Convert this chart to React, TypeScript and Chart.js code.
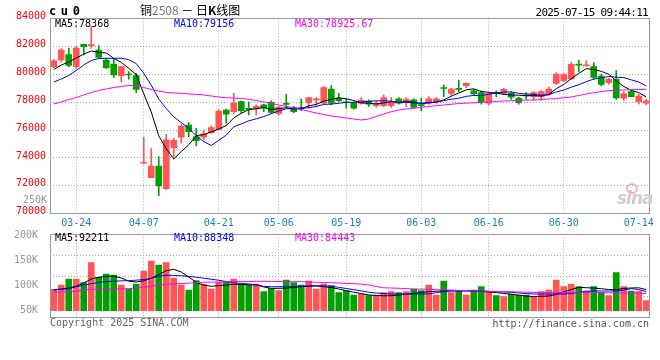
import React, { useEffect, useRef } from "react";
import { Chart, registerables } from "chart.js";
Chart.register(...registerables);

const DATES = [
  "03-19","03-20","03-21","03-24","03-25","03-26","03-27","03-28","03-31",
  "04-01","04-02","04-03","04-07","04-08","04-09","04-10","04-11","04-14","04-15","04-16","04-17","04-18","04-21","04-22","04-23","04-24","04-25","04-28","04-29","04-30",
  "05-06","05-07","05-08","05-09","05-12","05-13","05-14","05-15","05-16","05-19","05-20","05-21","05-22","05-23","05-26","05-27","05-28","05-29","05-30",
  "06-03","06-04","06-05","06-06","06-09","06-10","06-11","06-12","06-13","06-16","06-17","06-18","06-19","06-20","06-23","06-24","06-25","06-26","06-27","06-30",
  "07-01","07-02","07-03","07-04","07-07","07-08","07-09","07-10","07-11","07-14","07-15"
];

const OPEN = [80543,81024,81404,80543,82150,82060,81741,81024,80737,79898,79970,79898,73620,72582,73421,71800,74730,75480,76360,75520,75480,75810,76050,77440,77315,78035,77500,77510,77800,77990,77200,77860,77630,77560,77960,78160,77920,78940,78280,77980,77920,77920,78080,77750,77750,77750,78230,78030,78160,77760,77920,78035,79000,78630,78930,79180,78820,78680,77920,78640,78635,78635,78280,78450,78390,78390,78585,79350,79540,79660,80670,80600,80543,79876,79400,79640,78280,78750,78030,77920];
const CLOSE = [80973,81741,80643,81884,81978,82100,81217,80471,79948,80543,79948,78922,73650,73421,72000,75300,75270,76290,75880,75235,75720,76170,77365,77130,77960,77390,77480,77700,77560,77270,77630,77840,77315,77540,78320,78180,79040,77920,78110,77960,77560,78155,77850,77850,78320,77960,77920,78200,77630,77750,78230,78230,78980,78940,78920,79350,78585,78030,78635,78630,78920,78350,77960,78440,78680,78750,78940,80020,79970,80715,80660,80615,79783,79280,79640,78300,78620,78400,78440,78100];
const HIGH = [81050,81834,81884,81978,82171,83390,82049,81167,81145,80543,80185,80070,75480,74662,74088,75700,75400,76400,76555,76125,76000,76310,77450,77500,78635,78100,78030,77800,77850,78100,77700,78585,77700,78230,78350,78320,79110,79180,78635,78230,78050,78320,78160,78080,78510,78320,78320,78320,78230,78280,78400,78320,79230,78990,79590,79380,78920,78820,78700,78820,78990,78750,78350,78690,78750,78850,79080,80110,80070,80860,81020,80970,80830,80020,79700,80260,78750,78850,78560,78200];
const LOW = [80480,80859,80543,80400,81382,81863,81150,80400,79783,79446,79640,78678,73565,72582,71300,71700,74100,75050,75520,74856,75285,75760,76000,76480,77200,77250,77080,77080,77320,77180,77050,77560,77250,77390,77560,77670,77850,77800,78030,77560,77500,77860,77700,77630,77670,77630,77850,77670,77560,77390,77850,77920,78390,78490,78750,79040,78500,77850,77800,78390,78560,78200,77850,78200,78150,78130,78480,79280,79470,79620,80185,80600,79640,79160,79280,78200,78130,78390,77850,77800];

const MA5 = [80342,80665,80880,81167,81444,81669,81564,81530,81143,80856,80425,79966,78602,77297,75588,74659,73928,74456,74948,75595,75679,75859,76074,76324,76869,77203,77465,77532,77618,77480,77528,77600,77523,77519,77729,77839,78079,78200,78314,78242,78118,77941,77927,77875,77947,78027,77980,78050,78006,77892,77946,78008,78164,78426,78660,78884,78955,78765,78704,78646,78560,78513,78499,78460,78470,78436,78554,78966,79272,79679,80061,80396,80349,80211,79996,79524,79125,78848,78680,78368];
const MA10 = [79446,79661,79912,80270,80665,80988,81131,81145,81145,81150,81047,80765,80066,79220,78222,77542,76947,76529,76122,75592,75169,74894,75265,75636,76232,76441,76662,76803,76971,77175,77366,77533,77528,77569,77605,77684,77840,77862,77917,77986,77979,78010,78064,78095,78095,78073,77961,77989,77941,77920,77987,77994,78107,78216,78276,78415,78482,78465,78565,78653,78722,78734,78632,78582,78558,78498,78534,78733,78866,79075,79249,79475,79657,79741,79837,79792,79760,79598,79445,79156];
const MA30 = [77868,78011,78191,78334,78513,78693,78836,78944,79051,79123,79195,79195,79051,78908,78800,78693,78657,78636,78585,78564,78513,78442,78370,78320,78298,78262,78205,78119,78011,77904,77796,77703,77603,77474,77345,77223,77115,77007,76936,76864,76792,76721,76792,76972,77151,77316,77438,77510,77560,77632,77689,77747,77796,77847,77904,77926,77955,77990,78011,78047,78083,78105,78133,78155,78155,78191,78227,78262,78320,78370,78477,78585,78678,78765,78822,78851,78872,78894,78908,78925.67];

const VOLUME = [92800,101400,113400,113400,106000,146000,116800,123400,121400,101400,93400,103400,129400,149400,141400,146000,115400,101400,91400,110000,102800,93400,106800,108000,113400,101400,101400,103400,88000,94800,90000,111400,106000,101400,109400,93400,103400,100000,86000,90000,81400,83400,80000,80000,86000,88000,86000,88000,92800,90000,101400,81400,109400,86000,90000,81400,91400,98000,88000,80000,78000,83400,81400,81400,78000,88000,91400,111400,98000,103400,98000,89400,98000,86000,80000,126000,98000,89400,89400,70000];
const VOL_MA5 = [92000,93400,95400,99000,105400,113400,117000,118400,119000,115400,109000,107400,109800,115000,122400,130000,132800,127400,117400,106600,101000,98800,100200,101400,102800,102400,101800,101800,97400,94800,94800,95200,96600,98000,98800,99400,98000,96400,93400,90000,87000,84200,81400,80600,79800,80000,81400,83000,84800,86600,88200,89000,89800,90000,90000,90000,89600,88400,87400,86200,84600,82800,81200,79200,78200,78800,79400,82600,87400,92400,96600,96000,95200,94000,92400,92000,94600,95400,95800,92211];
const VOL_MA10 = [91800,92800,94000,98000,101400,104000,106600,108200,109000,109600,110200,111000,112200,114800,119000,121000,120600,119800,118600,117000,115000,113000,110800,108200,105600,104600,103600,101400,98800,98000,98000,98000,98400,99200,99800,100000,99600,98800,96800,94400,92200,89600,87000,85200,84400,83400,83400,83400,83400,83400,83800,86000,88200,89400,89400,89400,89400,89400,88800,88000,87400,86800,85600,84200,83400,83400,83400,83400,83400,84400,86800,88800,89400,89400,89400,89400,91400,94200,92400,88348];
const VOL_MA30 = [87000,87400,87800,88800,91400,92800,93000,93200,93400,93400,94200,95200,97200,99400,101200,103000,103600,104200,105200,106200,106800,107200,107400,107800,108000,108200,108400,108600,108800,108600,108400,108200,108000,108000,107400,107000,106400,106000,105400,104600,104000,103200,101400,98400,95800,95400,94800,94200,93600,93200,92800,92200,91600,91200,90600,90200,89600,89200,88800,88400,88200,87800,87400,87000,86600,86200,86000,86200,86600,86800,87000,86800,86400,86000,85800,85600,85400,85200,84800,84443];

const DATE_TICKS = ["03-24","04-07","04-21","05-06","05-19","06-03","06-16","06-30","07-14"];
const GRID_DATES = ["03-24","04-07","04-21","05-06","05-19","06-03","06-16","06-30"];
const PRICE_MIN = 70000;
const PRICE_MAX = 84000;
const PRICE_STEP = 2000;
const VOL_TICKS = [50000, 100000, 150000, 200000];
const VOL_MIN = 36000;
const VOL_MAX = 202800;
const VOL_BASE = 50000;

const UP = "#ff5555";
const DOWN = "#00a000";
const GRID = "#aaaaaa";
const FRAME = "#999999";
const MONO = "'DejaVu Sans Mono', monospace";

const candleColor = CLOSE.map((c, i) => (c >= OPEN[i] ? UP : DOWN));

const framePlugin = {
  id: "frame",
  afterDraw(chart: any) {
    const { ctx, chartArea: a } = chart;
    ctx.save();
    ctx.strokeStyle = FRAME;
    ctx.lineWidth = 1;
    const l = Math.floor(a.left) + 0.5;
    const t = Math.floor(a.top) + 0.5;
    const r = Math.floor(a.right - 1) + 0.5;
    const b = Math.floor(a.bottom) + 0.5;
    ctx.strokeRect(l, t, r - l, b - t);
    ctx.restore();
  },
};

function lineDs(data: number[], color: string, yAxisID = "y") {
  return {
    type: "line" as const,
    data,
    borderColor: color,
    borderWidth: 1,
    pointRadius: 0,
    tension: 0,
    fill: false,
    order: 0,
    yAxisID,
  };
}

const xGridColor = (ctx: any) =>
  GRID_DATES.includes(DATES[ctx.index]) ? GRID : "rgba(0,0,0,0)";

export default function App() {
  const priceRef = useRef<HTMLCanvasElement>(null);
  const volRef = useRef<HTMLCanvasElement>(null);

  useEffect(() => {
    const price = new Chart(priceRef.current!, {
      type: "bar",
      data: {
        labels: DATES,
        datasets: [
          {
            type: "bar",
            data: LOW.map((l, i) => [l, HIGH[i]]),
            backgroundColor: candleColor,
            barThickness: 1,
            grouped: false,
            order: 3,
          } as any,
          {
            type: "bar",
            data: OPEN.map((o, i) => [o, CLOSE[i]]),
            backgroundColor: candleColor,
            barThickness: 6,
            minBarLength: 1,
            grouped: false,
            order: 2,
          } as any,
          lineDs(MA30, "#ff00ff"),
          lineDs(MA10, "#0000ff"),
          lineDs(MA5, "#000000"),
        ],
      },
      options: {
        responsive: false,
        animation: false,
        events: [],
        layout: { padding: { top: 18.5, right: 10, left: 0, bottom: 0 } },
        plugins: { legend: { display: false }, tooltip: { enabled: false } },
        scales: {
          x: {
            type: "category",
            offset: true,
            grid: { offset: false, color: xGridColor, drawTicks: false, lineWidth: 1 },
            border: { display: false, dash: [1, 2] },
            ticks: {
              autoSkip: false,
              maxRotation: 0,
              minRotation: 0,
              padding: 4,
              color: "#1a80c8",
              font: { family: MONO, size: 10 },
              callback: (_v: any, i: number) => (DATE_TICKS.includes(DATES[i]) ? DATES[i] : ""),
            },
            afterFit: (s: any) => {
              s.height = 232 - 213.7;
              s.paddingLeft = 0;
              s.paddingRight = 0;
            },
          },
          y: {
            type: "linear",
            min: PRICE_MIN,
            max: PRICE_MAX,
            ticks: {
              stepSize: PRICE_STEP,
              padding: 4,
              labelOffset: -2,
              color: "#ff0000",
              font: { family: MONO, size: 10 },
              callback: (v: any) => String(v),
            },
            grid: { color: GRID, drawTicks: false, lineWidth: 1 },
            border: { display: false, dash: [1, 2] },
            afterFit: (s: any) => {
              s.width = 50;
              s.paddingTop = 0;
              s.paddingBottom = 0;
            },
          },
        },
      } as any,
      plugins: [framePlugin],
    });

    const vol = new Chart(volRef.current!, {
      type: "bar",
      data: {
        labels: DATES,
        datasets: [
          {
            type: "bar",
            data: VOLUME.map((v) => [VOL_BASE, v]),
            backgroundColor: candleColor,
            barThickness: 6,
            grouped: false,
            order: 2,
          } as any,
          lineDs(VOL_MA30, "#ff00ff"),
          lineDs(VOL_MA10, "#0000ff"),
          lineDs(VOL_MA5, "#000000"),
        ],
      },
      options: {
        responsive: false,
        animation: false,
        events: [],
        layout: { padding: { top: 10.3, right: 10, left: 0, bottom: 0 } },
        plugins: { legend: { display: false }, tooltip: { enabled: false } },
        scales: {
          x: {
            type: "category",
            offset: true,
            grid: { offset: false, color: xGridColor, drawTicks: false, lineWidth: 1 },
            border: { display: false, dash: [1, 2] },
            ticks: { display: false, autoSkip: false },
            afterFit: (s: any) => {
              s.height = 136 - 93.7;
              s.paddingLeft = 0;
              s.paddingRight = 0;
            },
          },
          y: {
            type: "linear",
            min: VOL_MIN,
            max: VOL_MAX,
            afterBuildTicks: (s: any) => {
              s.ticks = VOL_TICKS.map((v) => ({ value: v }));
            },
            ticks: {
              padding: 4,
              color: "#999999",
              font: { family: MONO, size: 10 },
              callback: (v: any) => v / 1000 + "K",
            },
            grid: { display: false },
            border: { display: false },
            afterFit: (s: any) => {
              s.width = 50;
              s.paddingTop = 0;
              s.paddingBottom = 0;
            },
          },
          yq: {
            type: "linear",
            position: "left",
            min: 0,
            max: 4,
            ticks: { display: false, stepSize: 1 },
            grid: { color: GRID, drawTicks: false, lineWidth: 1 },
            border: { display: false, dash: [1, 2] },
            afterFit: (s: any) => {
              s.width = 0;
              s.paddingTop = 0;
              s.paddingBottom = 0;
            },
          },
        },
      } as any,
      plugins: [framePlugin],
    });

    return () => {
      price.destroy();
      vol.destroy();
    };
  }, []);

  const txt = (style: React.CSSProperties): React.CSSProperties => ({
    position: "absolute",
    fontFamily: MONO,
    fontSize: 10,
    lineHeight: "10px",
    whiteSpace: "pre",
    ...style,
  });

  return (
    <div style={{ position: "absolute", left: 0, top: 0, width: 660, height: 360, background: "#fff", overflow: "hidden" }}>
      <canvas ref={priceRef} width={660} height={232} style={{ position: "absolute", left: 0, top: 0, width: 660, height: 232 }} />
      <canvas ref={volRef} width={660} height={136} style={{ position: "absolute", left: 0, top: 224, width: 660, height: 136 }} />

      <div style={txt({ left: 49, top: 5, fontSize: 12, lineHeight: "12px", fontWeight: "bold", letterSpacing: "4.6px", color: "#000" })}>cu0</div>
      <div style={{ position: "absolute", left: 140, top: 3, fontFamily: "'Noto Sans CJK SC', sans-serif", fontSize: 12, lineHeight: "13px", color: "#000", whiteSpace: "pre" }}>
        铜<span style={{ color: "#777" }}>2508</span> － 日<b>K</b>线图
      </div>
      <div style={txt({ right: 12, top: 7, fontSize: 11, lineHeight: "11px", letterSpacing: "-0.7px", color: "#000" })}>2025-07-15 09:44:11</div>

      <div style={txt({ left: 55, top: 19, color: "#000" })}>MA5:78368</div>
      <div style={txt({ left: 174, top: 19, color: "#0000ff" })}>MA10:79156</div>
      <div style={txt({ left: 295, top: 19, color: "#ff00ff" })}>MA30:78925.67</div>

      <div style={txt({ left: 23, top: 195, color: "#999" })}>250K</div>

      <div style={txt({ left: 55, top: 233, color: "#000" })}>MA5:92211</div>
      <div style={txt({ left: 174, top: 233, color: "#0000ff" })}>MA10:88348</div>
      <div style={txt({ left: 295, top: 233, color: "#ff00ff" })}>MA30:84443</div>

      <div style={txt({ left: 50, top: 318, color: "#666" })}>Copyright 2025 SINA.COM</div>
      <div style={txt({ right: 11, top: 319, color: "#555" })}>http://finance.sina.com.cn</div>

      <div style={{ position: "absolute", left: 617, top: 190, fontFamily: "'DejaVu Sans', sans-serif", fontStyle: "italic", fontWeight: "bold", fontSize: 17, lineHeight: "17px", color: "#cfcfcf", letterSpacing: "-1px" }}>sina</div>
      <div style={{ position: "absolute", left: 626, top: 183, width: 8, height: 7, borderRadius: "50%", border: "2px solid #f6a0a0", opacity: 0.8 }} />
    </div>
  );
}
